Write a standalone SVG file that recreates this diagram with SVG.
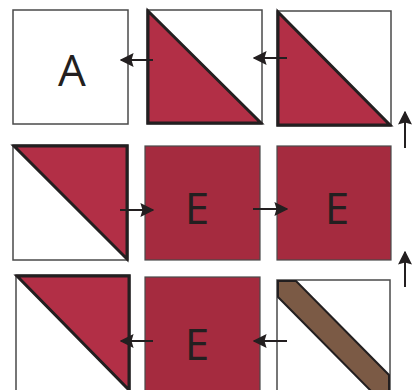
<svg xmlns="http://www.w3.org/2000/svg" width="412" height="390" viewBox="0 0 412 390">
<defs>
<style>
.box{fill:#fff;stroke:#4a4a4a;stroke-width:1.5}
.tri{fill:#b22f46;stroke:#231f20;stroke-width:3;stroke-linejoin:miter}
.solid{fill:#a52b3f;stroke:#4a4a4a;stroke-width:1.2}
.band{fill:#7b5a45;stroke:#231f20;stroke-width:2}
.lbl{font-family:"Open Sans","Noto Sans",sans-serif;font-size:44px;fill:#231f20;text-anchor:middle}
.con{stroke:#231f20;stroke-width:2;fill:none}
</style>
<marker id="ah" viewBox="0 0 10 10" refX="9" refY="5" markerWidth="7" markerHeight="7" markerUnits="strokeWidth" orient="auto">
<path d="M0,0 L10,5 L0,10 L1.5,5 z" fill="#231f20"/>
</marker>
</defs>
<g id="nodeA"><rect class="box" x="13" y="10" width="115" height="114"/><text class="lbl" x="72" y="86">A</text></g>
<g id="node12"><rect class="box" x="147" y="10" width="115" height="114"/><path class="tri" d="M148,11 L261,123 L148,123 Z"/></g>
<g id="node13"><rect class="box" x="277" y="11" width="114" height="115"/><path class="tri" d="M278,12 L390,125 L278,125 Z"/></g>
<g id="node21"><rect class="box" x="13" y="145" width="115" height="115"/><path class="tri" d="M14,146 L127,146 L127,259 Z"/></g>
<g id="node22"><rect class="solid" x="145" y="146" width="115" height="114"/><text class="lbl" x="197" y="224">E</text></g>
<g id="node23"><rect class="solid" x="277" y="146" width="114" height="114"/><text class="lbl" x="337" y="224">E</text></g>
<g id="node31"><rect class="box" x="16" y="275" width="114" height="120"/><path class="tri" d="M17,276 L129,276 L129,390 Z"/></g>
<g id="node32"><rect class="solid" x="145" y="277" width="115" height="118"/><text class="lbl" x="197" y="360">E</text></g>
<g id="node33"><rect class="box" x="277" y="280" width="113" height="115"/><path class="band" d="M278,281 L296,281 L389,375 L389,395 L375,395 L278,297 Z"/></g>
<g id="connectors">
<line class="con" x1="153" y1="60" x2="121" y2="60" marker-end="url(#ah)"/>
<line class="con" x1="287" y1="58" x2="254" y2="58" marker-end="url(#ah)"/>
<line class="con" x1="405" y1="148" x2="405" y2="112" marker-end="url(#ah)"/>
<line class="con" x1="120" y1="210" x2="153" y2="210" marker-end="url(#ah)"/>
<line class="con" x1="253" y1="209" x2="287" y2="209" marker-end="url(#ah)"/>
<line class="con" x1="405" y1="287" x2="405" y2="252" marker-end="url(#ah)"/>
<line class="con" x1="153" y1="341" x2="121" y2="341" marker-end="url(#ah)"/>
<line class="con" x1="287" y1="341" x2="254" y2="341" marker-end="url(#ah)"/>
</g>
</svg>
